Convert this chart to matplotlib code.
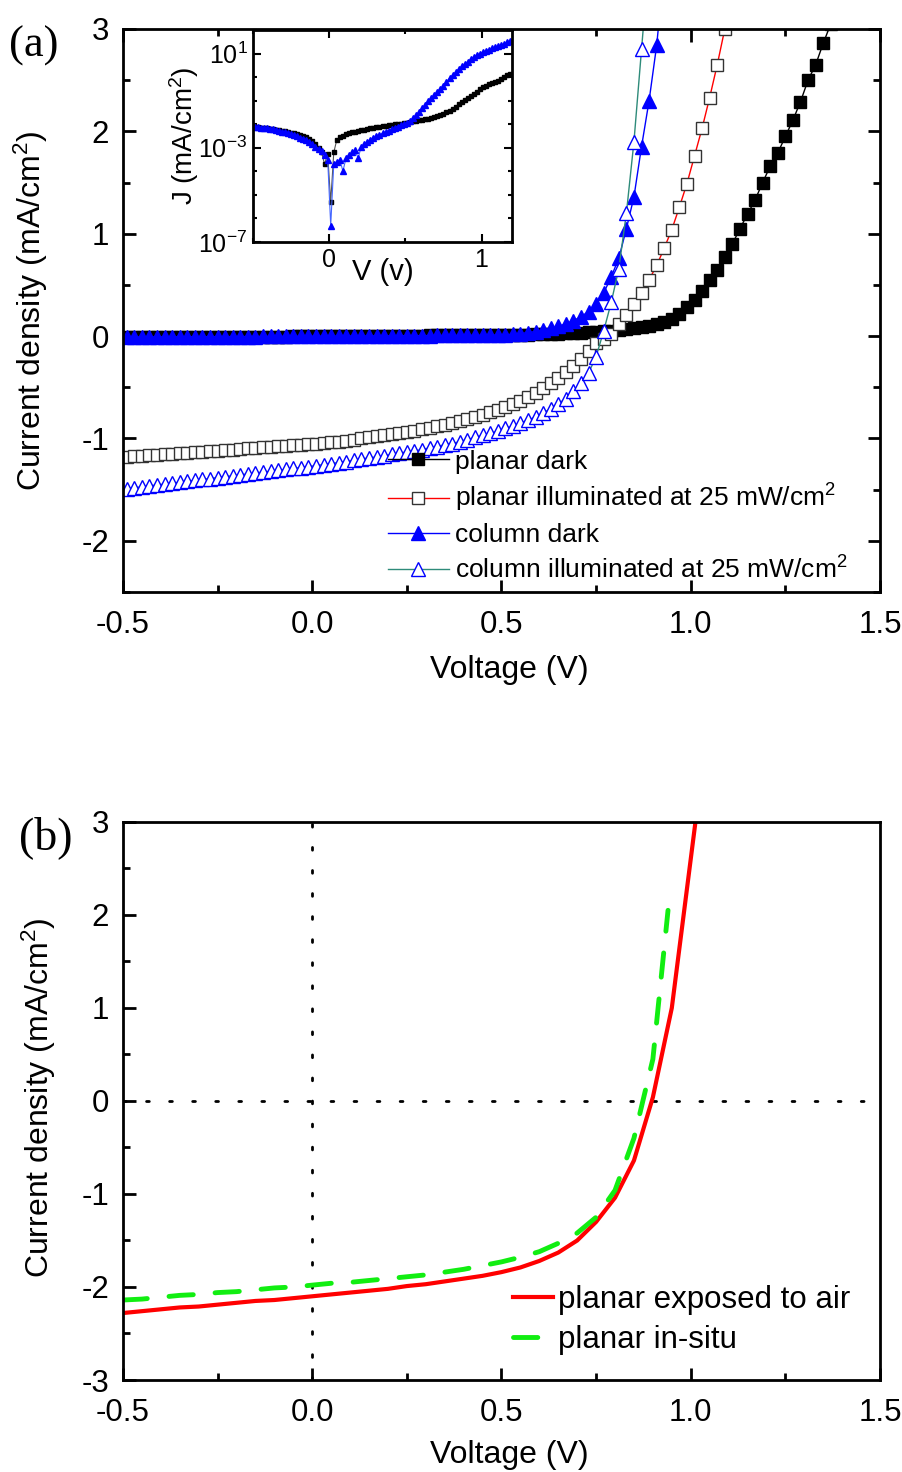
import numpy as np
import matplotlib
matplotlib.use('Agg')
import matplotlib.pyplot as plt
from matplotlib.ticker import MultipleLocator, FixedLocator, FixedFormatter, NullFormatter

plt.rcParams['font.family'] = ['Liberation Sans', 'DejaVu Sans']
plt.rcParams['mathtext.fontset'] = 'custom'
plt.rcParams['mathtext.rm'] = 'Liberation Sans'
plt.rcParams['mathtext.default'] = 'regular'

# ---- panel (a): J-V sweep, 0.02 V steps starting at -0.49 V ----
v_sweep = np.round(np.arange(-0.49, 1.38, 0.02), 2)

planar_dark = [
    -0.012, -0.012, -0.011, -0.011, -0.011, -0.010, -0.010, -0.010, -0.009, -0.009,
    -0.009, -0.008, -0.008, -0.008, -0.007, -0.007, -0.006, -0.006, -0.005, -0.005,
    -0.004, -0.004, -0.003, -0.002, -0.001,
    0.000, 0.001, 0.001, 0.002, 0.002, 0.002, 0.003, 0.003, 0.003, 0.004,
    0.004, 0.004, 0.005, 0.005, 0.005, 0.006, 0.006, 0.006, 0.007, 0.007,
    0.008, 0.008, 0.009, 0.009, 0.010,
    0.011, 0.012, 0.013, 0.015, 0.017, 0.019, 0.021, 0.024, 0.027, 0.030,
    0.034, 0.038, 0.043, 0.048, 0.054, 0.060, 0.067, 0.075, 0.085, 0.100,
    0.115, 0.135, 0.170, 0.220, 0.280, 0.350, 0.440, 0.550, 0.650, 0.770,
    0.900, 1.050, 1.190, 1.330, 1.500, 1.660, 1.790, 1.950, 2.110, 2.290,
    2.500, 2.650, 2.860, 3.050]

planar_illum = [
    -1.180, -1.175, -1.170, -1.165, -1.160, -1.155, -1.150, -1.145, -1.140, -1.135,
    -1.130, -1.125, -1.120, -1.115, -1.110, -1.100, -1.095, -1.090, -1.085, -1.080,
    -1.075, -1.070, -1.065, -1.060, -1.055,
    -1.050, -1.040, -1.035, -1.030, -1.020, -1.010, -1.000, -0.990, -0.980, -0.970,
    -0.960, -0.950, -0.940, -0.925, -0.910, -0.895, -0.880, -0.865, -0.850, -0.830,
    -0.810, -0.790, -0.770, -0.745, -0.720,
    -0.690, -0.660, -0.630, -0.595, -0.555, -0.510, -0.460, -0.410, -0.350, -0.290,
    -0.220, -0.150, -0.070, -0.030, 0.020, 0.120, 0.210, 0.310, 0.420, 0.550,
    0.690, 0.860, 1.040, 1.260, 1.490, 1.760, 2.030, 2.330, 2.650, 3.000,
    3.350]

column_dark = [
    -0.008, -0.008, -0.008, -0.007, -0.007, -0.007, -0.007, -0.006, -0.006, -0.006,
    -0.006, -0.005, -0.005, -0.005, -0.005, -0.004, -0.004, -0.004, -0.003, -0.003,
    -0.003, -0.002, -0.002, -0.001, -0.001,
    0.000, 0.000, 0.001, 0.001, 0.001, 0.002, 0.002, 0.002, 0.003, 0.003,
    0.003, 0.004, 0.004, 0.004, 0.005, 0.005, 0.006, 0.006, 0.007, 0.007,
    0.008, 0.008, 0.009, 0.010, 0.011,
    0.013, 0.018, 0.025, 0.035, 0.045, 0.060, 0.075, 0.095, 0.120, 0.150,
    0.190, 0.240, 0.310, 0.420, 0.580, 0.760, 1.050, 1.360, 1.850, 2.300,
    2.840, 3.600]

column_illum = [
    -1.490, -1.481, -1.472, -1.463, -1.454, -1.445, -1.436, -1.427, -1.418, -1.409,
    -1.400, -1.391, -1.382, -1.373, -1.364, -1.355, -1.346, -1.337, -1.328, -1.320,
    -1.310, -1.302, -1.293, -1.284, -1.275,
    -1.265, -1.255, -1.245, -1.235, -1.225, -1.215, -1.200, -1.190, -1.180, -1.170,
    -1.155, -1.145, -1.130, -1.120, -1.110, -1.090, -1.080, -1.060, -1.050, -1.030,
    -1.010, -0.990, -0.970, -0.950, -0.930,
    -0.900, -0.880, -0.850, -0.820, -0.790, -0.750, -0.710, -0.660, -0.610, -0.540,
    -0.460, -0.360, -0.200, 0.050, 0.330, 0.660, 1.200, 1.900, 2.800, 3.700]

# ---- inset: log10 |J| of the dark curves ----
v_inset = np.round(np.arange(-0.49, 1.20, 0.02), 2)

log_planar_dark = [
    -2.12, -2.13, -2.15, -2.16, -2.18, -2.20, -2.22, -2.24, -2.26, -2.28,
    -2.30, -2.33, -2.36, -2.39, -2.42, -2.46, -2.50, -2.55, -2.62, -2.72,
    -2.85, -3.00, -3.20, -3.70, -3.25,
    -5.30, -3.20, -2.66, -2.55, -2.48, -2.42, -2.38, -2.35, -2.32, -2.29,
    -2.26, -2.23, -2.20, -2.18, -2.15, -2.13, -2.11, -2.09, -2.07, -2.05,
    -2.03, -2.01, -1.99, -1.97, -1.95,
    -1.93, -1.91, -1.88, -1.86, -1.84, -1.82, -1.79, -1.76, -1.73, -1.70,
    -1.66, -1.61, -1.56, -1.49, -1.42, -1.34, -1.25, -1.15, -1.06, -0.98,
    -0.90, -0.81, -0.72, -0.62, -0.52, -0.44, -0.37, -0.31, -0.26, -0.21,
    -0.15, -0.08, -0.01, 0.08, 0.15]

log_column_dark = [
    -2.10, -2.12, -2.14, -2.16, -2.18, -2.20, -2.22, -2.25, -2.28, -2.31,
    -2.35, -2.39, -2.43, -2.47, -2.52, -2.57, -2.62, -2.68, -2.75, -2.85,
    -2.95, -3.05, -3.15, -3.30, -3.50,
    -6.30, -3.70, -3.60, -3.50, -4.00, -3.45, -3.30, -3.20, -3.10, -3.45,
    -2.95, -2.85, -2.75, -2.66, -2.58, -2.50, -2.44, -2.38, -2.32, -2.27,
    -2.22, -2.16, -2.10, -2.05, -2.00,
    -1.94, -1.88, -1.75, -1.62, -1.48, -1.33, -1.18, -1.03, -0.89, -0.76,
    -0.63, -0.50, -0.36, -0.20, -0.04, 0.08, 0.21, 0.34, 0.46, 0.56,
    0.66, 0.76, 0.85, 0.93, 1.00, 1.06, 1.12, 1.17, 1.22, 1.27,
    1.31, 1.36, 1.42, 1.50, 1.55]

# ---- panel (b) ----
v_air = [-0.5, -0.45, -0.4, -0.35, -0.3, -0.25, -0.2, -0.15, -0.1, -0.05, 0.0,
         0.05, 0.1, 0.15, 0.2, 0.25, 0.3, 0.35, 0.4, 0.45, 0.5, 0.55, 0.6,
         0.65, 0.7, 0.75, 0.8, 0.85, 0.9, 0.95, 1.0, 1.05]
j_air = [-2.28, -2.26, -2.24, -2.22, -2.21, -2.19, -2.17, -2.15, -2.14, -2.12, -2.10,
         -2.08, -2.06, -2.04, -2.02, -1.99, -1.97, -1.94, -1.91, -1.88, -1.84, -1.79, -1.72,
         -1.63, -1.50, -1.30, -1.04, -0.64, 0.04, 1.00, 2.60, 4.20]

v_insitu = [-0.5, -0.45, -0.4, -0.35, -0.3, -0.25, -0.2, -0.15, -0.1, -0.05, 0.0,
            0.05, 0.1, 0.15, 0.2, 0.25, 0.3, 0.35, 0.4, 0.45, 0.5, 0.55, 0.6,
            0.65, 0.7, 0.75, 0.8, 0.85, 0.9, 0.94]
j_insitu = [-2.14, -2.13, -2.11, -2.09, -2.08, -2.06, -2.05, -2.03, -2.01, -2.00, -1.98,
            -1.96, -1.95, -1.93, -1.91, -1.89, -1.87, -1.84, -1.81, -1.77, -1.73, -1.68, -1.62,
            -1.53, -1.42, -1.25, -0.96, -0.40, 0.45, 2.05]

TICK = 22.5
LABEL = 23

fig = plt.figure(figsize=(9.03, 14.72), dpi=100)
ax1 = fig.add_axes([0.1362, 0.5978, 0.8383, 0.3825])
ax2 = fig.add_axes([0.1362, 0.0625, 0.8383, 0.3791])
axin = fig.add_axes([0.2802, 0.8356, 0.2868, 0.1440])

# panel (a)
ax1.plot(v_sweep[:len(planar_dark)], planar_dark, '-s', color='black', lw=1,
         ms=8, mfc='black', mec='black', label='planar dark')
ax1.plot(v_sweep[:len(planar_illum)], planar_illum, '-s', color='red', lw=1,
         ms=8, mfc='white', mec='#333333', mew=1, label='planar illuminated at 25 mW/cm$^2$')
ax1.plot(v_sweep[:len(column_dark)], column_dark, '-^', color='blue', lw=1,
         ms=9.5, mfc='blue', mec='blue', label='column dark')
ax1.plot(v_sweep[:len(column_illum)], column_illum, '-^', color='#2e8b7a', lw=1,
         ms=9.5, mfc='white', mec='blue', mew=1, label='column illuminated at 25 mW/cm$^2$')

ax1.set_xlim(-0.5, 1.5)
ax1.set_ylim(-2.5, 3)
ax1.xaxis.set_minor_locator(MultipleLocator(0.25))
ax1.yaxis.set_minor_locator(MultipleLocator(0.5))
ax1.set_xticks([-0.5, 0.0, 0.5, 1.0, 1.5])
ax1.set_xticklabels(['-0.5', '0.0', '0.5', '1.0', '1.5'])
ax1.set_yticks([-2, -1, 0, 1, 2, 3])
ax1.set_yticklabels(['-2', '-1', '0', '1', '2', '3'])
ax1.tick_params(which='both', direction='in', top=True, right=True, width=2,
                labelsize=TICK)
ax1.tick_params(axis='x', pad=13)
ax1.tick_params(axis='y', pad=10)
ax1.tick_params(which='major', length=9)
ax1.tick_params(which='minor', length=5)
for s in ax1.spines.values():
    s.set_linewidth(2)
ax1.set_xlabel('Voltage (V)', fontsize=LABEL)
ax1.set_ylabel('Current density (mA/cm$^2$)', fontsize=LABEL)
ax1.xaxis.set_label_coords(0.51, -0.112)
ax1.yaxis.set_label_coords(-0.096, 0.5)
ax1.legend(loc='upper left', bbox_to_anchor=(0.35, 0.253), frameon=False,
           fontsize=19, handlelength=2.3, handletextpad=0.25, labelspacing=0.33,
           borderpad=0, borderaxespad=0)
fig.text(0.010, 0.969, '(a)', family='Liberation Serif', fontsize=32, va='center')

# inset
axin.plot(v_inset, 10.0 ** np.array(log_planar_dark), '-s', color='#555555', lw=0.8,
          ms=3.5, mfc='black', mec='black')
axin.plot(v_inset, 10.0 ** np.array(log_column_dark), '-^', color='#4466ff', lw=0.8,
          ms=5, mfc='blue', mec='blue')
axin.set_yscale('log')
axin.set_xlim(-0.5, 1.2)
axin.set_ylim(1e-7, 1e2)
axin.yaxis.set_major_locator(FixedLocator([1e-7, 1e-3, 1e1]))
axin.yaxis.set_major_formatter(FixedFormatter(['$10^{-7}$', '$10^{-3}$', '$10^{1}$']))
axin.yaxis.set_minor_locator(FixedLocator([10.0 ** k for k in range(-7, 3)]))
axin.yaxis.set_minor_formatter(NullFormatter())
axin.xaxis.set_major_locator(FixedLocator([0, 1]))
axin.xaxis.set_minor_locator(FixedLocator([-0.5, 0.5]))
axin.tick_params(which='both', direction='in', top=True, right=True, width=1.5,
                 labelsize=18, pad=4)
axin.tick_params(which='major', length=6)
axin.tick_params(which='minor', length=3)
for s in axin.spines.values():
    s.set_linewidth(2)
axin.set_xlabel('V (v)', fontsize=21, labelpad=-10)
axin.set_ylabel('J (mA/cm$^2$)', fontsize=20, labelpad=-2)

# panel (b)
ax2.axhline(0, color='black', lw=2, ls=(0, (1, 7.3)), dash_capstyle='round')
ax2.axvline(0, color='black', lw=2, ls=(0, (1, 7.3)), dash_capstyle='round')
ax2.plot(v_air, j_air, color='#ff0000', lw=3, label='planar exposed to air')
ax2.plot(v_insitu, j_insitu, color='#11ee11', lw=3.5, ls=(0, (5, 4.5)),
         dash_capstyle='round', label='planar in-situ')
ax2.set_xlim(-0.5, 1.5)
ax2.set_ylim(-3, 3)
ax2.set_xticks([-0.5, 0.0, 0.5, 1.0, 1.5])
ax2.set_xticklabels(['-0.5', '0.0', '0.5', '1.0', '1.5'])
ax2.xaxis.set_minor_locator(MultipleLocator(0.25))
ax2.set_yticks([-3, -2, -1, 0, 1, 2, 3])
ax2.set_yticklabels(['-3', '-2', '-1', '0', '1', '2', '3'])
ax2.yaxis.set_minor_locator(MultipleLocator(0.5))
ax2.tick_params(which='both', direction='in', width=2, labelsize=TICK)
ax2.tick_params(axis='x', pad=13)
ax2.tick_params(axis='y', pad=10)
ax2.tick_params(which='major', length=9)
ax2.tick_params(which='minor', length=5)
for s in ax2.spines.values():
    s.set_linewidth(2)
ax2.set_xlabel('Voltage (V)', fontsize=LABEL)
ax2.set_ylabel('Current density (mA/cm$^2$)', fontsize=LABEL)
ax2.xaxis.set_label_coords(0.51, -0.107)
ax2.yaxis.set_label_coords(-0.086, 0.505)
ax2.legend(loc='upper left', bbox_to_anchor=(0.515, 0.17), frameon=False,
           fontsize=22.5, handlelength=1.3, handletextpad=0.15, labelspacing=0.3,
           borderpad=0, borderaxespad=0)
fig.text(0.021, 0.431, '(b)', family='Liberation Serif', fontsize=33, va='center')

fig.savefig('out.png', dpi=100)
